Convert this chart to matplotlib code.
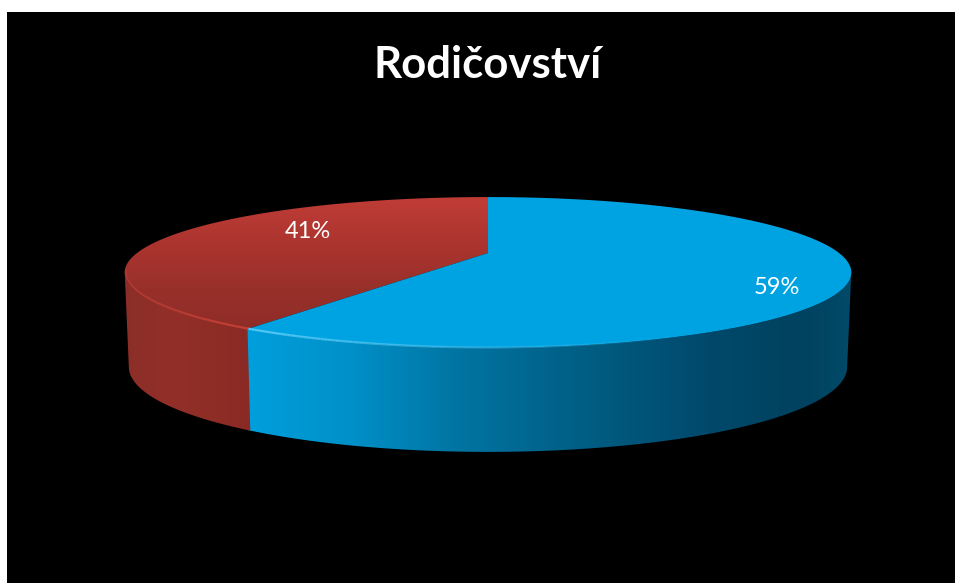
import numpy as np
import matplotlib
matplotlib.use('Agg')
import matplotlib.pyplot as plt
from matplotlib.patches import Polygon
from matplotlib.collections import LineCollection
from matplotlib.colors import LinearSegmentedColormap

# podily
kategorie = ['Ano', 'Ne']
hodnoty = [59, 41]
popisky = ['59%', '41%']
nadpis = 'Rodičovství'

plt.rcParams['font.family'] = ['Lato', 'DejaVu Sans']

W, H = 955, 583
PERSP = 0.258     # perspektiva kruhu
CX = 488
KRAJ = np.arccos(-PERSP)   # uhel nejsirsiho mista elipsy


def horni(theta, r=1.0):
    # bod na horni podstave, theta po smeru hodin od severu
    u, v = r * np.sin(theta), r * np.cos(theta)
    d = 1 + PERSP * v
    return CX + 351 * u / d, (253 - 5.1 * v) / d


def dolni(theta):
    u, v = np.sin(theta), np.cos(theta)
    d = 1 + PERSP * v
    return CX + 347 * u / d, (345 + 9.7 * v) / d


def vypln(ax, pts, cmap, smer, rozsah):
    # gradient oriznuty na polygon
    poly = Polygon(pts, closed=True, fc='none', ec='none', zorder=2)
    ax.add_patch(poly)
    g = np.linspace(0, 1, 256)
    g = g.reshape(1, -1) if smer == 'x' else g.reshape(-1, 1)
    if smer == 'x':
        ext = (rozsah[0], rozsah[1], 583, 12)
    else:
        ext = (0, W, rozsah[1], rozsah[0])
    im = ax.imshow(g, cmap=cmap, extent=ext, origin='upper' if smer == 'y' else 'lower',
                   aspect='auto', interpolation='bilinear', zorder=2)
    im.set_clip_path(poly)


def plast(ax, t1, t2, cmap, rozsah):
    t = np.linspace(t1, t2, 300)
    x1, y1 = horni(t)
    x2, y2 = dolni(t)
    pts = np.vstack([np.column_stack([x1, y1]), np.column_stack([x2, y2])[::-1]])
    vypln(ax, pts, cmap, 'x', rozsah)


def okraj(ax, t1, t2, barva, alfa1, alfa2, lw):
    # svetly lem na prednim okraji
    t = np.linspace(t1, t2, 120)
    x, y = horni(t, 0.997)
    seg = np.stack([np.column_stack([x[:-1], y[:-1]]), np.column_stack([x[1:], y[1:]])], axis=1)
    cols = [(*barva, a) for a in np.linspace(alfa1, alfa2, len(seg))]
    ax.add_collection(LineCollection(seg, colors=cols, linewidths=lw, zorder=5))


fig = plt.figure(figsize=(W / 100, H / 100), dpi=100, facecolor='white')
ax = fig.add_axes([7 / W, 0, (W - 7) / W, (H - 12) / H])
ax.axis('off')
ax.add_patch(plt.Rectangle((7, 12), W - 7, H - 12, fc='black', ec='none', zorder=0))

# uhly vysecovych hran z hodnot
hrany = np.cumsum([0] + hodnoty) / sum(hodnoty) * 2 * np.pi

modra_bok = LinearSegmentedColormap.from_list('mb', [
    (0.0, '#00A0DE'), (0.18, '#0090C8'), (0.35, '#0075A3'), (0.55, '#005F85'),
    (0.78, '#00486A'), (0.92, '#00425F'), (1.0, '#004A69')])
cervena_bok = LinearSegmentedColormap.from_list('cb', ['#8C2E28', '#922F29', '#8E2C26', '#8A2A24'])
cervena_top = LinearSegmentedColormap.from_list('ct', ['#C03D36', '#AC342F', '#98302A', '#8E2C27'])

# boky, bez mezery mezi barvami
plast(ax, KRAJ, hrany[1] + 0.01, modra_bok, (240, 851))
plast(ax, hrany[1], 2 * np.pi - KRAJ, cervena_bok, (125, 262))

# horni plochy
t = np.linspace(hrany[1], hrany[2], 300)
x, y = horni(t)
vypln(ax, np.vstack([[CX, horni(0, 0)[1]], np.column_stack([x, y])]), cervena_top, 'y', (197, 335))

t = np.linspace(hrany[0], hrany[1], 400)
x, y = horni(t)
ax.add_patch(Polygon(np.vstack([[CX, horni(0, 0)[1]], np.column_stack([x, y])]),
                     closed=True, fc='#00A3E2', ec='none', zorder=4))

# lemy
okraj(ax, hrany[1], 2 * np.pi - KRAJ + 0.05, (0.80, 0.27, 0.23), 0.9, 0.35, 1.6)
okraj(ax, hrany[1], hrany[1] - 1.0, (0.35, 0.80, 0.98), 0.95, 0.0, 1.6)

ax.set_xlim(7, W)
ax.set_ylim(H, 12)

ax.text(488, 65, nadpis, color='white', fontsize=31.5, fontweight='bold', ha='center', va='center', zorder=6)
ax.text(777, 288, popisky[0], color='white', fontsize=17, ha='center', va='center', zorder=6)
ax.text(308, 232, popisky[1], color='white', fontsize=17, ha='center', va='center', zorder=6)

fig.savefig('out.png', dpi=100, facecolor='white')
